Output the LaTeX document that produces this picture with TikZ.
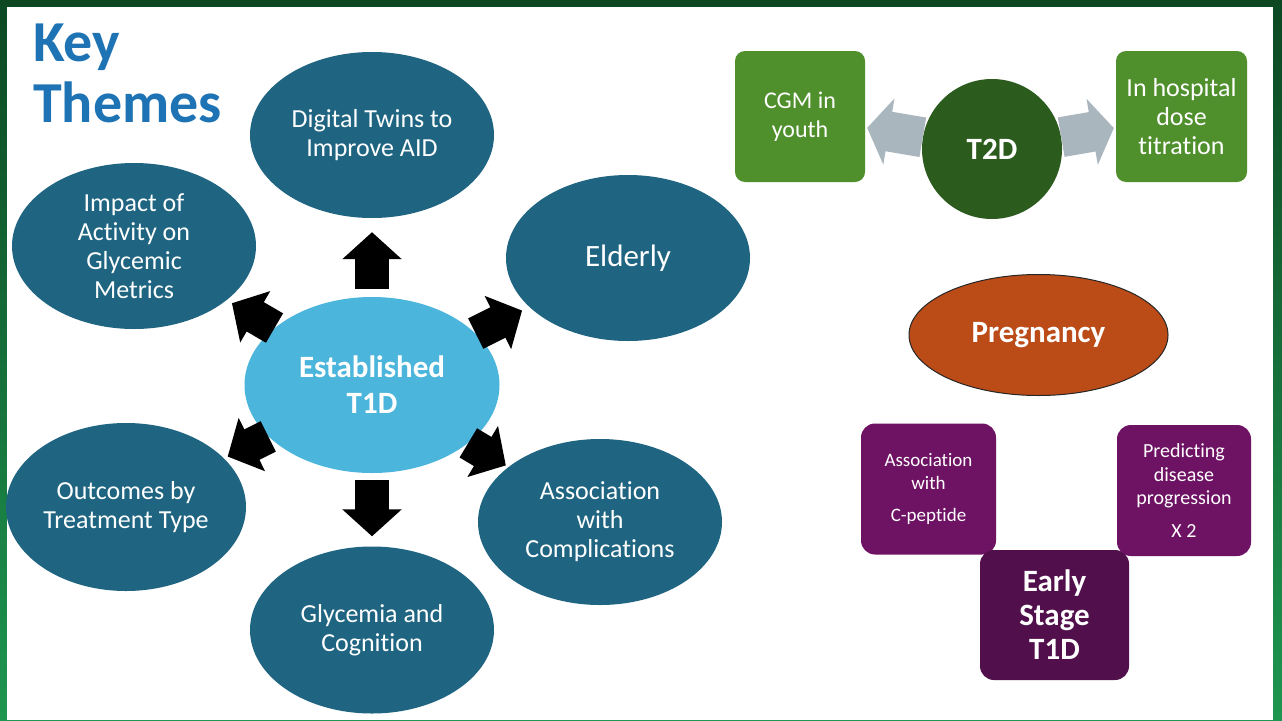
\documentclass[tikz,border=0pt]{standalone}
\usepackage{fontspec}
\setmainfont{Carlito}[Ligatures=NoCommon]
\usetikzlibrary{shapes.geometric,arrows.meta}
\definecolor{titleblue}{HTML}{1E73B4}
\definecolor{themeteal}{HTML}{1F6581}
\definecolor{hubblue}{HTML}{4BB5DC}
\definecolor{leafgreen}{HTML}{4F8F2C}
\definecolor{darkgreen}{HTML}{2B5C1E}
\definecolor{arrowgray}{HTML}{AAB6BE}
\definecolor{pregorange}{HTML}{BB4C18}
\definecolor{lightpurple}{HTML}{6E1264}
\definecolor{darkpurple}{HTML}{51104B}
\definecolor{framedark}{HTML}{0D4823}
\definecolor{framelight}{HTML}{1E9650}
\tikzset{
  theme/.style={ellipse, fill=themeteal, minimum width=244pt, minimum height=166pt, inner sep=0pt, font=\fontsize{26}{29}\selectfont},
  greenbox/.style={rectangle, rounded corners=10pt, fill=leafgreen, minimum width=130pt, minimum height=131pt, inner sep=0pt},
  purplebox/.style={rectangle, rounded corners=14pt, fill=lightpurple, minimum width=135pt, minimum height=131pt, inner sep=0pt, font=\fontsize{19}{23}\selectfont},
  blockarrow/.style={line width=34pt, black, -{Triangle[width=58pt,length=27pt]}},
  grayarrow/.style={line width=40pt, arrowgray, -{Triangle[width=66pt,length=22pt]}}
}
\begin{document}
\begin{tikzpicture}[x=1pt,y=-1pt, every node/.style={text=white, align=center}]
\useasboundingbox (0,0) rectangle (1282,720);
\shade[top color=framedark, bottom color=framelight] (0,0) rectangle (1282,720);
\fill[white] (7,7) rectangle (1273,720);
\node[anchor=north west, inner sep=0pt, align=left, text=titleblue, font=\fontsize{58}{61}\selectfont\bfseries] (title) at (33,24) {Key\\Themes};
% established T1D and its themes
\node[ellipse, fill=hubblue, minimum width=255pt, minimum height=176pt, inner sep=0pt, font=\fontsize{31}{36}\selectfont\bfseries] (hub) at (372,385) {Established\\T1D};
\node[theme] (twins) at (372,135) {Digital Twins to\\Improve AID};
\node[theme] (activity) at (134,246) {Impact of\\Activity on\\Glycemic\\Metrics};
\node[theme, font=\fontsize{31}{36}\selectfont] (elderly) at (628,258) {Elderly};
\node[theme, minimum width=240pt, minimum height=168pt] (outcomes) at (126,507) {Outcomes by\\Treatment Type};
\node[theme] (complications) at (600,522) {Association\\with\\Complications};
\node[theme, minimum height=167pt] (cognition) at (372,630) {Glycemia and\\Cognition};
\draw[blockarrow, shorten <=8pt, shorten >=14pt] (hub) -- (twins);
\draw[blockarrow, shorten <=0pt, shorten >=8pt] (hub) -- (elderly);
\draw[blockarrow, shorten <=0pt, shorten >=3pt] (hub) -- (complications);
\draw[blockarrow, shorten <=7pt, shorten >=10pt] (hub) -- (cognition);
\draw[blockarrow, shorten <=0pt, shorten >=4pt] (hub) -- (outcomes);
\draw[blockarrow, shorten <=0pt, shorten >=6pt] (hub) -- (activity);
% T2D
\node[circle, fill=darkgreen, minimum size=140pt, inner sep=0pt, font=\fontsize{31}{36}\selectfont\bfseries] (t2d) at (992,149) {T2D};
\node[greenbox, font=\fontsize{24}{29}\selectfont] (youth) at (800,116.5) {CGM in\\youth};
\node[greenbox, minimum width=131pt, font=\fontsize{26}{29}\selectfont] (titration) at (1181.5,116.5) {In hospital\\dose\\titration};
\draw[grayarrow, shorten >=2pt] (t2d) -- (youth);
\draw[grayarrow, shorten >=2pt] (t2d) -- (titration);
% pregnancy
\node[ellipse, draw=black!85, line width=1pt, fill=pregorange, minimum width=259pt, minimum height=121pt, inner sep=0pt, font=\fontsize{31}{36}\selectfont\bfseries] (pregnancy) at (1038.5,335) {Pregnancy};
% early stage T1D
\node[purplebox] (cpeptide) at (928.5,489) {Association\\with\\[9pt]C-peptide};
\node[purplebox, minimum width=134pt, font=\fontsize{20}{23.5}\selectfont] (progression) at (1184,490.5) {Predicting\\disease\\progression\\[9pt]X 2};
\node[purplebox, fill=darkpurple, minimum width=149pt, minimum height=130pt, font=\fontsize{31}{34}\selectfont\bfseries] (early) at (1054.5,615) {Early\\Stage\\T1D};
\end{tikzpicture}
\end{document}
